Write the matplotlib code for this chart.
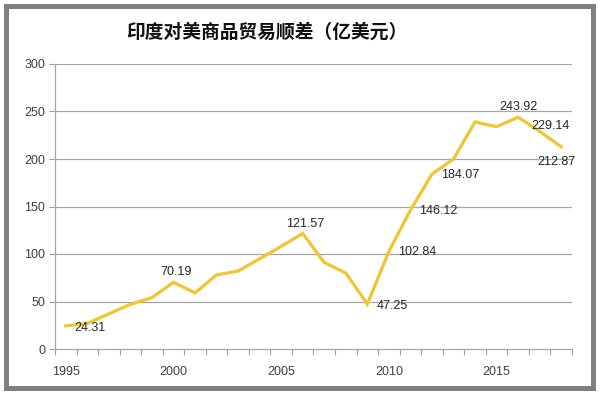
import matplotlib
matplotlib.use("Agg")
import matplotlib.pyplot as plt
from matplotlib.patches import Rectangle
import numpy as np

years = list(range(1995, 2019))
values = [24.31, 27, 37, 47, 54, 70.19, 59, 78, 82, 95, 108, 121.57,
          91, 80, 47.25, 102.84, 146.12, 184.07, 200, 239, 234, 243.92,
          229.14, 212.87]
tick_years = [1995, 2000, 2005, 2010, 2015]
y_ticks = [0, 50, 100, 150, 200, 250, 300]
title = "印度对美商品贸易顺差（亿美元）"

# labels: (year, value text, offset px, ha)
labels = [
    (1995, "24.31", (9, -2), "left"),
    (2000, "70.19", (3, 10), "center"),
    (2006, "121.57", (2, 10), "center"),
    (2009, "47.25", (9, -2), "left"),
    (2010, "102.84", (9, -1), "left"),
    (2011, "146.12", (9, -1), "left"),
    (2012, "184.07", (9, -1), "left"),
    (2016, "243.92", (0, 10), "center"),
    (2017, "229.14", (11, 5), "center"),
    (2018, "212.87", (-5, -15), "center"),
]

plt.rcParams['font.family'] = ['Liberation Sans', 'DejaVu Sans']

fig = plt.figure(figsize=(6, 3.93), dpi=100)
W, H = 600, 393
ax = fig.add_axes([55 / W, 1 - 349 / H, (572 - 55) / W, (349 - 64) / H])

x = np.arange(len(years))
line_color = "#F0C530"
ax.plot(x, values, color=line_color, lw=2.3, solid_joinstyle='miter', zorder=3)

ax.set_xlim(-0.5, len(years) - 0.5)
ax.set_ylim(0, 300)
ax.set_yticks(y_ticks)
ax.set_yticklabels([str(v) for v in y_ticks], fontsize=9, color="#404040")

major_pos = [years.index(y) for y in tick_years]
ax.set_xticks(major_pos)
ax.set_xticklabels([str(y) for y in tick_years], fontsize=9, color="#404040")
ax.set_xticks(np.arange(-0.5, len(years), 1.0), minor=True)
ax.tick_params(axis='x', which='major', length=0, pad=12)
ax.tick_params(axis='x', which='minor', length=4, direction='out', color="#a0a0a0", width=0.8)
ax.tick_params(axis='y', length=4, direction='out', color="#a0a0a0", width=0.8, pad=3)

grid_color = "#a6a6a6"
for v in y_ticks[1:]:
    ax.axhline(v, color=grid_color, lw=0.9, zorder=1)
for s in ['top', 'right']:
    ax.spines[s].set_visible(False)
for s in ['left', 'bottom']:
    ax.spines[s].set_color(grid_color)
    ax.spines[s].set_linewidth(0.9)

for yr, txt, (dx, dy), ha in labels:
    i = years.index(yr)
    ax.annotate(txt, (i, values[i]), xytext=(dx * 0.72, dy * 0.72),
                textcoords='offset points', ha=ha, va='center',
                fontsize=9, color="#262626", zorder=4)

fig.text(126 / W, 1 - 32 / H, title, ha='left', va='center', fontsize=13.5,
         fontweight='bold', family=['Noto Sans CJK SC', 'DejaVu Sans'], color="#111111")

fig.patches.append(Rectangle((5.5 / W, 5.5 / H), (592.5 - 5.5) / W, (387.5 - 5.5) / H,
                             transform=fig.transFigure, fill=False,
                             edgecolor="#808080", lw=3.6, zorder=10))

fig.savefig("out.png", dpi=100, facecolor="white")
